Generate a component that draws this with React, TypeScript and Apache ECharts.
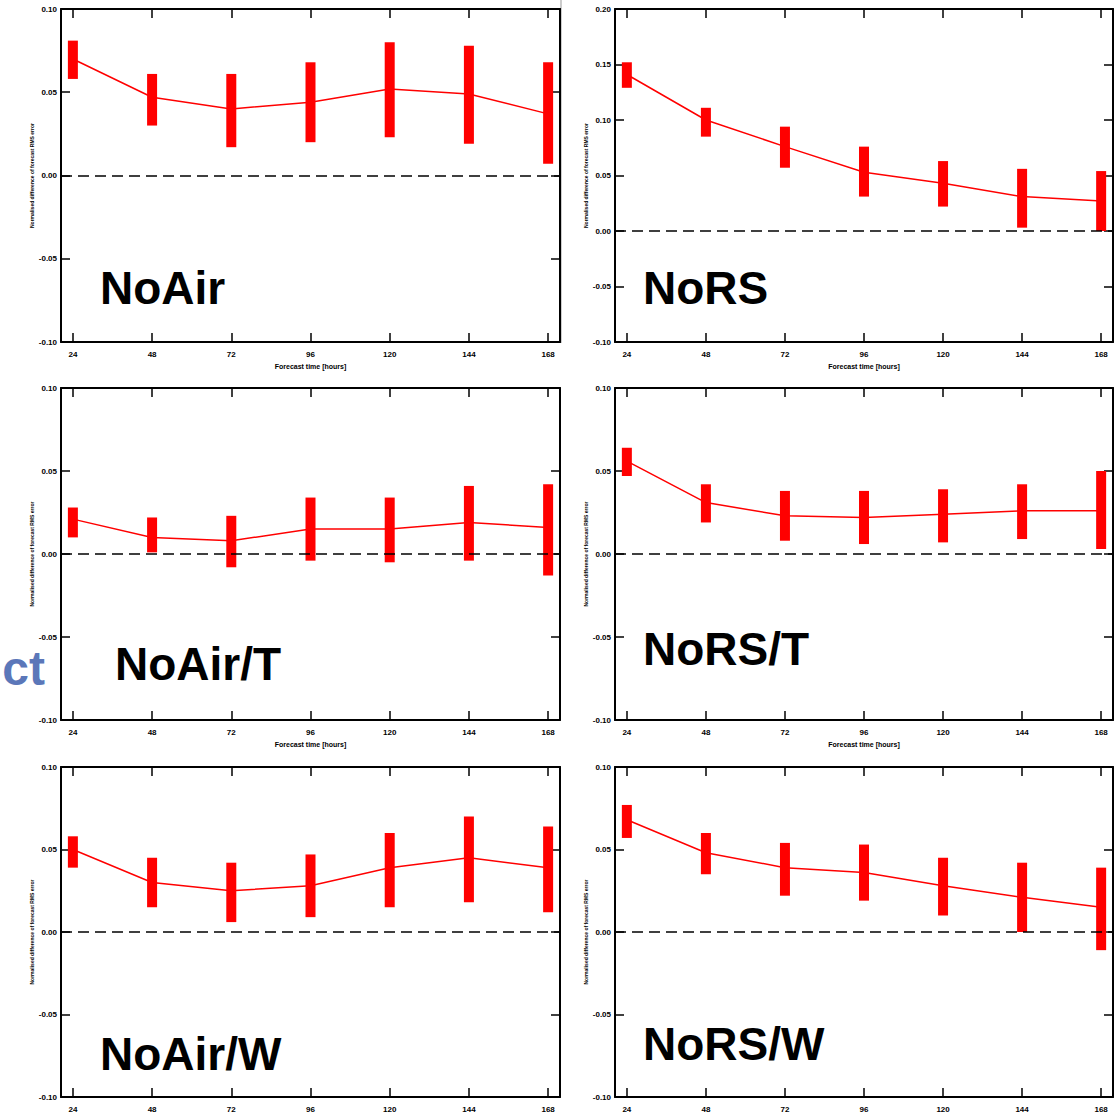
import React, { useEffect, useRef } from "react";
import * as echarts from "echarts";

// Forecast lead times (hours)
const hours = [24, 48, 72, 96, 120, 144, 168];

// NoAir
const noAirMean = [0.07, 0.047, 0.04, 0.044, 0.052, 0.049, 0.037];
const noAirLow = [0.058, 0.03, 0.017, 0.02, 0.023, 0.019, 0.007];
const noAirHigh = [0.081, 0.061, 0.061, 0.068, 0.08, 0.078, 0.068];

// NoRS
const noRSMean = [0.141, 0.1, 0.076, 0.053, 0.043, 0.031, 0.027];
const noRSLow = [0.129, 0.085, 0.057, 0.031, 0.022, 0.003, 0.0];
const noRSHigh = [0.152, 0.111, 0.094, 0.076, 0.063, 0.056, 0.054];

// NoAir/T
const noAirTMean = [0.021, 0.01, 0.008, 0.015, 0.015, 0.019, 0.016];
const noAirTLow = [0.01, 0.001, -0.008, -0.004, -0.005, -0.004, -0.013];
const noAirTHigh = [0.028, 0.022, 0.023, 0.034, 0.034, 0.041, 0.042];

// NoRS/T
const noRSTMean = [0.056, 0.031, 0.023, 0.022, 0.024, 0.026, 0.026];
const noRSTLow = [0.047, 0.019, 0.008, 0.006, 0.007, 0.009, 0.003];
const noRSTHigh = [0.064, 0.042, 0.038, 0.038, 0.039, 0.042, 0.05];

// NoAir/W
const noAirWMean = [0.05, 0.03, 0.025, 0.028, 0.039, 0.045, 0.039];
const noAirWLow = [0.039, 0.015, 0.006, 0.009, 0.015, 0.018, 0.012];
const noAirWHigh = [0.058, 0.045, 0.042, 0.047, 0.06, 0.07, 0.064];

// NoRS/W
const noRSWMean = [0.068, 0.048, 0.039, 0.036, 0.028, 0.021, 0.015];
const noRSWLow = [0.057, 0.035, 0.022, 0.019, 0.01, 0.0, -0.011];
const noRSWHigh = [0.077, 0.06, 0.054, 0.053, 0.045, 0.042, 0.039];

const panelTitles = ["NoAir", "NoRS", "NoAir/T", "NoRS/T", "NoAir/W", "NoRS/W"];
const panelMeans = [noAirMean, noRSMean, noAirTMean, noRSTMean, noAirWMean, noRSWMean];
const panelLows = [noAirLow, noRSLow, noAirTLow, noRSTLow, noAirWLow, noRSWLow];
const panelHighs = [noAirHigh, noRSHigh, noAirTHigh, noRSTHigh, noAirWHigh, noRSWHigh];
const panelYMin = [-0.1, -0.1, -0.1, -0.1, -0.1, -0.1];
const panelYMax = [0.1, 0.2, 0.1, 0.1, 0.1, 0.1];

const X_TITLE = "Forecast time [hours]";
const Y_TITLE = "Normalised difference of forecast RMS error";

// Layout (px)
const colLeft = [61, 615];
const colWidth = [499, 498];
const rowTop = [9, 388, 767];
const rowHeight = [333, 332, 330];
const titlePos = [
  [100, 288],
  [643, 288],
  [115, 664],
  [643, 649],
  [100, 1054],
  [643, 1044],
];

const FONT = "'Liberation Sans', Arial, sans-serif";
const RED = "#ff0000";

export default function App() {
  const ref = useRef<HTMLDivElement>(null);

  useEffect(() => {
    if (!ref.current) return;
    const chart = echarts.init(ref.current, undefined, { renderer: "svg" });

    const grids: any[] = [];
    const xAxes: any[] = [];
    const yAxes: any[] = [];
    const series: any[] = [];
    const graphics: any[] = [];

    const tickStyle = { color: "#000", width: 1.5 };
    const lineStyle = { color: "#000", width: 2 };
    const labelStyle = { fontSize: 8, fontWeight: "bold", color: "#000", fontFamily: FONT };

    for (let i = 0; i < 6; i++) {
      const col = i % 2;
      const row = Math.floor(i / 2);
      grids.push({
        left: colLeft[col],
        top: rowTop[row],
        width: colWidth[col],
        height: rowHeight[row],
        containLabel: false,
        outerBoundsMode: "none",
      });

      // bottom x axis with labels (the last row's title falls below the page)
      xAxes.push({
        type: "value",
        gridIndex: i,
        min: 20.4,
        max: 171.6,
        position: "bottom",
        axisLine: { show: true, onZero: false, lineStyle },
        axisTick: { show: true, inside: true, length: 9, customValues: hours, lineStyle: tickStyle },
        axisLabel: { ...labelStyle, margin: 8, customValues: hours },
        splitLine: { show: false },
        name: row < 2 ? X_TITLE : "",
        nameLocation: "middle",
        nameGap: 21,
        nameTextStyle: { ...labelStyle, fontSize: 7 },
      });
      // mirrored top x axis
      xAxes.push({
        type: "value",
        gridIndex: i,
        min: 20.4,
        max: 171.6,
        position: "top",
        axisLine: { show: true, onZero: false, lineStyle },
        axisTick: { show: true, inside: true, length: 9, customValues: hours, lineStyle: tickStyle },
        axisLabel: { show: false },
        splitLine: { show: false },
      });

      // left y axis with labels
      yAxes.push({
        type: "value",
        gridIndex: i,
        min: panelYMin[i],
        max: panelYMax[i],
        interval: 0.05,
        position: "left",
        axisLine: { show: true, onZero: false, lineStyle },
        axisTick: { show: true, inside: true, length: 9, lineStyle: tickStyle },
        axisLabel: {
          ...labelStyle,
          margin: 4,
          formatter: (v: number) => v.toFixed(2),
        },
        splitLine: { show: false },
        name: Y_TITLE,
        nameLocation: "middle",
        nameGap: 15,
        nameRotate: 90,
        nameTextStyle: { ...labelStyle, fontSize: 5 },
      });
      // mirrored right y axis
      yAxes.push({
        type: "value",
        gridIndex: i,
        min: panelYMin[i],
        max: panelYMax[i],
        interval: 0.05,
        position: "right",
        axisLine: { show: true, onZero: false, lineStyle },
        axisTick: { show: true, inside: true, length: 9, lineStyle: tickStyle },
        axisLabel: { show: false },
        splitLine: { show: false },
      });

      const mean = panelMeans[i];
      const low = panelLows[i];
      const high = panelHighs[i];

      // mean line with dashed zero reference
      series.push({
        type: "line",
        xAxisIndex: 2 * i,
        yAxisIndex: 2 * i,
        data: hours.map((h, k) => [h, mean[k]]),
        symbol: "none",
        lineStyle: { color: RED, width: 1.5 },
        itemStyle: { color: RED },
        z: 3,
        markLine: {
          silent: true,
          symbol: "none",
          label: { show: false },
          lineStyle: { color: "#000", type: [11, 6], width: 1.5 },
          data: [{ yAxis: 0 }],
        },
      });

      // thick uncertainty bars
      series.push({
        type: "custom",
        xAxisIndex: 2 * i,
        yAxisIndex: 2 * i,
        data: hours.map((h, k) => [h, low[k], high[k]]),
        encode: { x: 0, y: [1, 2] },
        z: 4,
        renderItem: (_params: any, api: any) => {
          const x = api.value(0);
          const top = api.coord([x, api.value(2)]);
          const bottom = api.coord([x, api.value(1)]);
          return {
            type: "rect",
            shape: { x: top[0] - 5, y: top[1], width: 10, height: bottom[1] - top[1] },
            style: { fill: RED },
          };
        },
      });

      graphics.push({
        type: "text",
        x: titlePos[i][0],
        y: titlePos[i][1],
        style: {
          text: panelTitles[i],
          font: `bold 46px ${FONT}`,
          fill: "#000",
          verticalAlign: "middle",
          align: "left",
        },
        z: 10,
      });
    }

    // thin border beside the right column
    graphics.push({
      type: "line",
      shape: { x1: 561, y1: 0, x2: 561, y2: 343 },
      style: { stroke: "#999", lineWidth: 1 },
    });

    // clipped heading text at the left edge
    graphics.push({
      type: "text",
      x: 45,
      y: 668,
      style: {
        text: "ct",
        font: `bold 48px ${FONT}`,
        fill: "#5b77b9",
        align: "right",
        verticalAlign: "middle",
      },
    });

    chart.setOption({
      animation: false,
      backgroundColor: "#fff",
      grid: grids,
      xAxis: xAxes,
      yAxis: yAxes,
      series,
      graphic: graphics,
    });

    return () => chart.dispose();
  }, []);

  return (
    <div
      ref={ref}
      style={{ position: "fixed", left: 0, top: 0, width: 1119, height: 1115, background: "#fff" }}
    />
  );
}
